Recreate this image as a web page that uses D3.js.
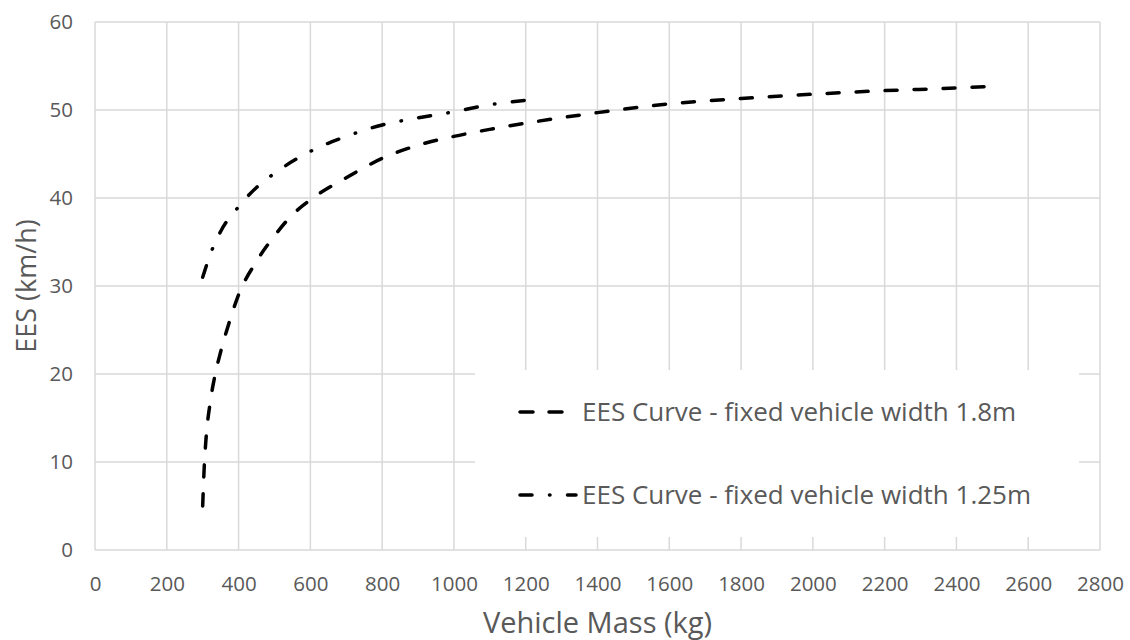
<!DOCTYPE html>
<html>
<head>
<meta charset="utf-8">
<script src="https://cdn.jsdelivr.net/npm/d3@7"></script>
<style>
  body { margin: 0; background: #fff; }
  text { font-family: "Open Sans", sans-serif; fill: #595959; }
</style>
</head>
<body>
<svg id="chart" width="1130" height="640"></svg>
<script>
// valores
const xTicks = [0, 200, 400, 600, 800, 1000, 1200, 1400, 1600, 1800, 2000, 2200, 2400, 2600, 2800];
const yTicks = [0, 10, 20, 30, 40, 50, 60];

const massWide = [300, 305, 310, 320, 335, 350, 375, 400, 450, 500, 550, 600, 700, 800, 900, 1000, 1100, 1200, 1400, 1600, 1800, 2000, 2200, 2400, 2500];
const eesWide  = [5, 10, 13, 16.5, 20, 22.5, 26, 29, 32.8, 35.7, 38.1, 39.8, 42.3, 44.5, 46, 47, 47.8, 48.5, 49.7, 50.7, 51.3, 51.8, 52.2, 52.5, 52.7];

const massNarrow = [300, 325, 350, 400, 450, 500, 600, 700, 800, 900, 1000, 1100, 1200];
const eesNarrow  = [31, 34, 36.2, 39, 41.2, 42.8, 45.3, 47, 48.3, 49.1, 49.8, 50.6, 51.1];

const seriesNames = ["EES Curve - fixed vehicle width 1.8m", "EES Curve - fixed vehicle width 1.25m"];
const xTitle = "Vehicle Mass (kg)";
const yTitle = "EES (km/h)";

var margin = { top: 22, right: 30, bottom: 90, left: 95 };
var width = 1130 - margin.left - margin.right;
var height = 640 - margin.top - margin.bottom;

var svg = d3.select("#chart");
var g = svg.append("g").attr("transform", `translate(${margin.left},${margin.top})`);

var x = d3.scaleLinear().domain([0, 2800]).range([0, width]);
var y = d3.scaleLinear().domain([0, 60]).range([height, 0]);

// grelha
g.append("g").selectAll("line")
  .data(xTicks)
  .join("line")
  .attr("x1", d => x(d)).attr("x2", d => x(d))
  .attr("y1", 0).attr("y2", height)
  .attr("stroke", "#d9d9d9").attr("stroke-width", 1.5);

g.append("g").selectAll("line")
  .data(yTicks)
  .join("line")
  .attr("x1", 0).attr("x2", width)
  .attr("y1", d => y(d)).attr("y2", d => y(d))
  .attr("stroke", "#d9d9d9").attr("stroke-width", 1.5);

// eixos (só os rótulos)
var xAxis = g.append("g")
  .attr("transform", `translate(0,${height})`)
  .call(d3.axisBottom(x).tickValues(xTicks).tickFormat(d3.format("d")).tickSize(0).tickPadding(26));
var yAxis = g.append("g")
  .call(d3.axisLeft(y).tickValues(yTicks).tickFormat(d3.format("d")).tickSize(0).tickPadding(22));
[xAxis, yAxis].forEach(a => {
  a.select(".domain").remove();
  a.selectAll("text").style("font-size", "20.5px").attr("fill", "#595959")
    .style("font-family", "'Open Sans', sans-serif");
});

// caixa da legenda (tapa a grelha)
g.append("rect")
  .attr("x", 380).attr("y", 348)
  .attr("width", 604).attr("height", 167)
  .attr("fill", "#fff");

var line = d3.line()
  .x(d => x(d[0]))
  .y(d => y(d[1]))
  .curve(d3.curveMonotoneX);

var dashWide = "12,17";
var dashNarrow = "12,17.5,0.5,17.5";

g.append("path")
  .datum(massWide.map((m, i) => [m, eesWide[i]]))
  .attr("d", line)
  .attr("fill", "none").attr("stroke", "#000")
  .attr("stroke-width", 3.5).attr("stroke-linecap", "round")
  .attr("stroke-dasharray", dashWide);

g.append("path")
  .datum(massNarrow.map((m, i) => [m, eesNarrow[i]]))
  .attr("d", line)
  .attr("fill", "none").attr("stroke", "#000")
  .attr("stroke-width", 3.5).attr("stroke-linecap", "round")
  .attr("stroke-dasharray", dashNarrow);

// legenda
var legend = svg.append("g");
var legendY = [412, 495];
var sampleEnd = [565, 576];
var legendDash = ["13,16", dashNarrow];
seriesNames.forEach((name, i) => {
  legend.append("line")
    .attr("x1", 520).attr("x2", sampleEnd[i])
    .attr("y1", legendY[i]).attr("y2", legendY[i])
    .attr("stroke", "#000").attr("stroke-width", 3.5)
    .attr("stroke-linecap", "round")
    .attr("stroke-dasharray", legendDash[i]);
  legend.append("text")
    .attr("x", 582).attr("y", legendY[i])
    .attr("dy", "0.35em")
    .style("font-size", "26px")
    .text(name);
});

// títulos
svg.append("text")
  .attr("x", margin.left + width / 2).attr("y", 623)
  .attr("dy", "0.35em").attr("text-anchor", "middle")
  .style("font-size", "29px")
  .text(xTitle);

svg.append("text")
  .attr("transform", `translate(27,${margin.top + height / 2}) rotate(-90)`)
  .attr("dy", "0.35em").attr("text-anchor", "middle")
  .style("font-size", "27px")
  .text(yTitle);
</script>
</body>
</html>
